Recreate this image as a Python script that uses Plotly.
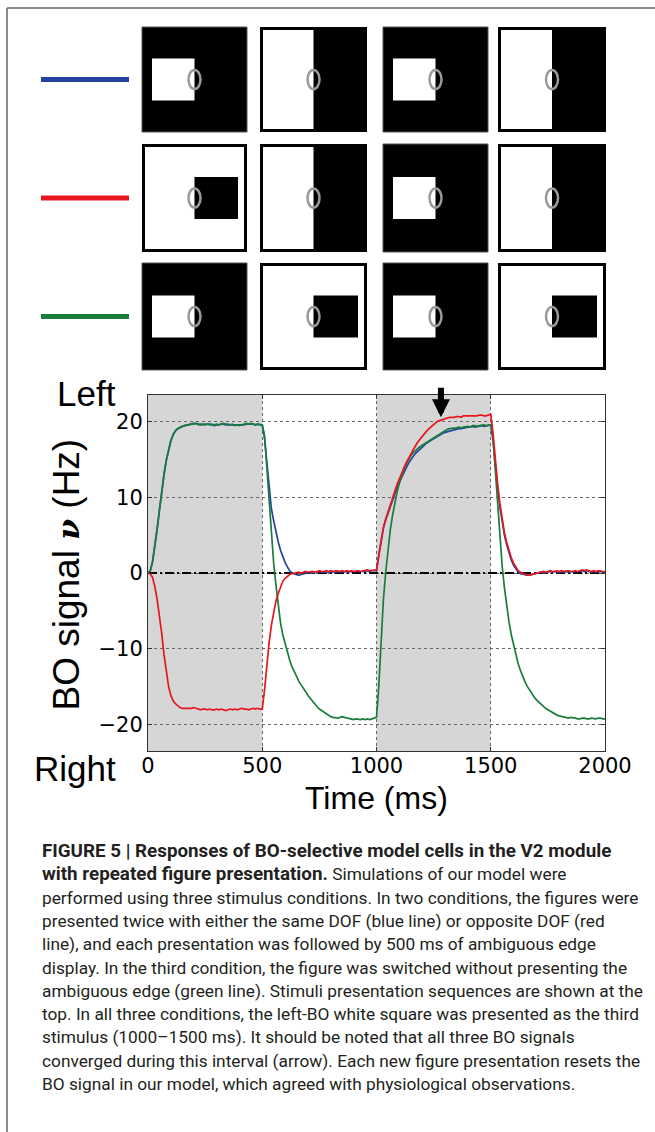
import plotly.graph_objects as go

W, H = 655, 1132

# ---------------- data ----------------
T_MS = list(range(0, 2001, 10))

BLUE_SAME_DOF = [
    0.0, 0.3, 1.5, 3.5, 5.8, 8.3, 10.8, 13.0, 14.9, 16.4,
    17.5, 18.3, 18.8, 19.1, 19.3, 19.4, 19.5, 19.6, 19.6, 19.7,
    19.8, 19.8, 19.7, 19.6, 19.7, 19.6, 19.7, 19.7, 19.6, 19.5,
    19.6, 19.6, 19.7, 19.7, 19.6, 19.6, 19.5, 19.6, 19.5, 19.6,
    19.5, 19.6, 19.6, 19.7, 19.7, 19.7, 19.7, 19.6, 19.7, 19.6,
    19.6, 17.8, 14.6, 11.0, 8.5, 6.9, 5.4, 4.1, 3.0, 2.1,
    1.4, 0.8, 0.3, 0.0, -0.1, -0.2, -0.3, -0.2, -0.1, 0.0,
    0.0, 0.1, 0.0, 0.1, 0.1, 0.2, 0.1, 0.1, 0.2, 0.1,
    0.2, 0.1, 0.2, 0.2, 0.1, 0.2, 0.1, 0.2, 0.1, 0.2,
    0.1, 0.2, 0.2, 0.1, 0.2, 0.2, 0.3, 0.2, 0.3, 0.3,
    0.3, 2.4, 4.4, 5.9, 7.0, 7.9, 8.8, 9.7, 10.5, 11.3,
    12.0, 12.7, 13.3, 13.9, 14.5, 15.0, 15.4, 15.8, 16.1, 16.4,
    16.7, 16.9, 17.2, 17.4, 17.6, 17.8, 18.0, 18.1, 18.3, 18.5,
    18.6, 18.7, 18.8, 18.9, 19.0, 19.0, 19.1, 19.1, 19.2, 19.2,
    19.3, 19.3, 19.4, 19.3, 19.4, 19.5, 19.5, 19.4, 19.5, 19.6,
    19.6, 17.5, 14.2, 11.2, 8.7, 6.6, 5.0, 3.7, 2.6, 1.7,
    1.0, 0.5, 0.1, -0.1, -0.2, -0.3, -0.3, -0.3, -0.2, -0.1,
    0.0, 0.0, 0.1, 0.0, 0.1, 0.1, 0.2, 0.1, 0.2, 0.1,
    0.1, 0.2, 0.1, 0.2, 0.2, 0.1, 0.2, 0.1, 0.1, 0.2,
    0.3, 0.2, 0.3, 0.2, 0.1, 0.2, 0.1, 0.2, 0.2, 0.1,
    0.1,
]

GREEN_NO_AMBIGUOUS = [
    0.0, 0.3, 1.5, 3.5, 5.8, 8.3, 10.8, 13.0, 14.9, 16.4,
    17.5, 18.3, 18.8, 19.1, 19.3, 19.4, 19.5, 19.5, 19.6, 19.7,
    19.7, 19.8, 19.6, 19.7, 19.6, 19.7, 19.7, 19.6, 19.7, 19.6,
    19.7, 19.6, 19.7, 19.8, 19.7, 19.7, 19.6, 19.7, 19.5, 19.6,
    19.5, 19.6, 19.7, 19.8, 19.7, 19.8, 19.7, 19.6, 19.7, 19.6,
    19.6, 18.2, 14.0, 9.3, 4.8, 1.3, -1.6, -4.5, -6.6, -8.2,
    -9.4, -10.5, -11.5, -12.4, -13.1, -13.7, -14.3, -14.8, -15.2, -15.7,
    -16.2, -16.6, -17.0, -17.4, -17.7, -18.0, -18.2, -18.5, -18.7, -18.9,
    -19.0, -19.1, -19.2, -19.2, -19.1, -19.0, -19.1, -19.2, -19.3, -19.3,
    -19.4, -19.3, -19.4, -19.4, -19.3, -19.4, -19.3, -19.4, -19.3, -19.2,
    -19.1, -15.0, -9.2, -3.6, 0.0, 3.3, 5.6, 7.6, 9.3, 10.7,
    11.9, 12.9, 13.7, 14.4, 15.0, 15.5, 15.9, 16.2, 16.5, 16.7,
    16.9, 17.1, 17.3, 17.5, 17.7, 17.9, 18.1, 18.3, 18.5, 18.7,
    18.9, 19.0, 19.1, 19.1, 19.2, 19.2, 19.3, 19.2, 19.3, 19.4,
    19.4, 19.3, 19.5, 19.5, 19.4, 19.5, 19.6, 19.6, 19.5, 19.6,
    19.6, 17.8, 13.5, 8.8, 4.4, 0.9, -2.0, -4.5, -6.5, -8.2,
    -9.6, -10.9, -12.0, -12.9, -13.7, -14.4, -15.0, -15.5, -16.0, -16.4,
    -16.8, -17.1, -17.4, -17.7, -17.9, -18.1, -18.3, -18.5, -18.7, -18.8,
    -18.9, -19.0, -19.1, -19.2, -19.2, -19.1, -19.1, -19.2, -19.3, -19.3,
    -19.2, -19.2, -19.3, -19.3, -19.2, -19.3, -19.3, -19.2, -19.2, -19.3,
    -19.3,
]

RED_OPPOSITE_DOF = [
    0.0, -0.1, -0.6, -1.8, -3.5, -5.5, -8.0, -10.8, -13.2, -15.0,
    -16.2, -16.9, -17.3, -17.6, -17.8, -17.9, -17.9, -18.0, -18.0, -17.9,
    -17.8, -17.9, -18.0, -18.1, -18.0, -18.0, -18.1, -18.0, -18.1, -18.1,
    -18.0, -18.1, -18.0, -18.1, -18.2, -18.1, -18.0, -18.1, -18.0, -18.1,
    -18.0, -17.9, -18.0, -18.0, -18.1, -18.0, -17.9, -18.0, -17.9, -18.0,
    -18.0, -15.5, -12.2, -9.2, -6.9, -5.0, -3.7, -2.7, -1.8, -1.1,
    -0.7, -0.4, -0.2, -0.1, 0.0, 0.0, 0.1, 0.0, 0.1, 0.2,
    0.1, 0.2, 0.2, 0.1, 0.2, 0.3, 0.2, 0.2, 0.3, 0.2,
    0.3, 0.2, 0.3, 0.3, 0.2, 0.3, 0.2, 0.3, 0.2, 0.3,
    0.2, 0.3, 0.3, 0.2, 0.3, 0.3, 0.4, 0.3, 0.4, 0.4,
    0.4, 2.5, 4.5, 6.0, 7.1, 8.1, 9.0, 9.9, 10.8, 11.7,
    12.5, 13.2, 13.9, 14.6, 15.2, 15.8, 16.3, 16.8, 17.3, 17.7,
    18.1, 18.5, 18.8, 19.1, 19.4, 19.7, 19.9, 20.1, 20.2, 20.4,
    20.5, 20.5, 20.6, 20.6, 20.6, 20.7, 20.7, 20.6, 20.8, 20.8,
    20.8, 20.7, 20.7, 20.8, 20.8, 20.9, 20.9, 20.8, 20.8, 20.9,
    21.0, 18.5, 15.0, 11.8, 9.2, 7.0, 5.3, 4.0, 2.9, 2.0,
    1.3, 0.7, 0.3, 0.1, -0.1, -0.2, -0.2, -0.3, -0.2, -0.1,
    0.0, 0.1, 0.1, 0.2, 0.1, 0.2, 0.3, 0.2, 0.2, 0.3,
    0.2, 0.3, 0.2, 0.3, 0.3, 0.2, 0.2, 0.3, 0.2, 0.3,
    0.4, 0.3, 0.4, 0.3, 0.2, 0.3, 0.2, 0.3, 0.3, 0.2,
    0.2,
]

X_TICKS = [0, 500, 1000, 1500, 2000]
Y_TICKS = [-20, -10, 0, 10, 20]
FIGURE_PERIODS = [(0, 500), (1000, 1500)]
ARROW_T, ARROW_V = 1282, 20.6

# stimulus sequences: A = white square left on black, B = ambiguous edge,
# C = black square right on white
STIMULI = [
    ["A", "B", "A", "B"],
    ["C", "B", "A", "B"],
    ["A", "C", "A", "C"],
]

BLUE, RED, GREEN = "#2244a0", "#e8161c", "#1a7d3c"
SERIES = [("same DOF", BLUE_SAME_DOF, BLUE),
          ("no ambiguous edge", GREEN_NO_AMBIGUOUS, GREEN),
          ("opposite DOF", RED_OPPOSITE_DOF, RED)]
ROW_COLORS = [BLUE, RED, GREEN]

BOLD_SPAN = '<span style="font-size:18.8px"><b>{}</b></span>'
CAPTION = [
    BOLD_SPAN.format("FIGURE 5 | Responses of BO-selective model cells in the V2 module"),
    BOLD_SPAN.format("with repeated figure presentation.") + " Simulations of our model were",
    "performed using three stimulus conditions. In two conditions, the figures were",
    "presented twice with either the same DOF (blue line) or opposite DOF (red",
    "line), and each presentation was followed by 500 ms of ambiguous edge",
    "display. In the third condition, the figure was switched without presenting the",
    "ambiguous edge (green line). Stimuli presentation sequences are shown at the",
    "top. In all three conditions, the left-BO white square was presented as the third",
    "stimulus (1000\u20131500 ms). It should be noted that all three BO signals",
    "converged during this interval (arrow). Each new figure presentation resets the",
    "BO signal in our model, which agreed with physiological observations.",
]

# ---------------- layout geometry (pixels) ----------------
PLOT_L, PLOT_R, PLOT_T, PLOT_B = 148, 605, 395, 751
PANEL_X = [(142, 247), (260, 367), (383, 488), (498, 606)]
PANEL_Y = [(27, 132), (144, 252), (263, 370)]
LEGEND_X = (41, 129)


def fx(px):
    return px / W


def fy(py):
    return 1 - py / H


fig = go.Figure()

# zero reference line
fig.add_trace(go.Scatter(
    x=[X_TICKS[0], X_TICKS[-1]], y=[0, 0], mode="lines",
    line=dict(color="black", width=2, dash="9px,3px,2px,3px"),
    hoverinfo="skip", showlegend=False))

for name, vals, col in SERIES:
    fig.add_trace(go.Scatter(
        x=T_MS, y=vals, mode="lines", name=name,
        line=dict(color=col, width=1.7), showlegend=False))

shapes = []
for a, b in FIGURE_PERIODS:
    shapes.append(dict(type="rect", xref="x", yref="y domain", x0=a, x1=b,
                       y0=0, y1=1, fillcolor="#d6d6d6", line=dict(width=0),
                       layer="below"))

# page frame
shapes.append(dict(type="line", xref="paper", yref="paper",
                   x0=fx(7), x1=fx(W), y0=fy(8), y1=fy(8),
                   line=dict(color="#666666", width=1.5)))
shapes.append(dict(type="line", xref="paper", yref="paper",
                   x0=fx(7), x1=fx(7), y0=fy(8), y1=fy(H),
                   line=dict(color="#666666", width=1.5)))

# legend bars and stimulus panels
for r, row in enumerate(STIMULI):
    y0, y1 = PANEL_Y[r]
    cy = (y0 + y1) / 2
    shapes.append(dict(type="line", xref="paper", yref="paper",
                       x0=fx(LEGEND_X[0]), x1=fx(LEGEND_X[1]),
                       y0=fy(cy), y1=fy(cy),
                       line=dict(color=ROW_COLORS[r], width=5)))
    for c, kind in enumerate(row):
        x0, x1 = PANEL_X[c]
        cx = (x0 + x1) / 2
        if kind == "A":
            shapes.append(dict(type="rect", xref="paper", yref="paper",
                               x0=fx(x0), x1=fx(x1), y0=fy(y1), y1=fy(y0),
                               fillcolor="black", line=dict(color="#555555", width=1)))
            shapes.append(dict(type="rect", xref="paper", yref="paper",
                               x0=fx(x0 + 10), x1=fx(cx), y0=fy(cy + 21), y1=fy(cy - 21),
                               fillcolor="white", line=dict(width=0)))
        else:
            shapes.append(dict(type="rect", xref="paper", yref="paper",
                               x0=fx(x0 + 1.5), x1=fx(x1 - 1.5), y0=fy(y1 - 1.5), y1=fy(y0 + 1.5),
                               fillcolor="white", line=dict(color="black", width=3)))
            if kind == "B":
                shapes.append(dict(type="rect", xref="paper", yref="paper",
                                   x0=fx(cx), x1=fx(x1), y0=fy(y1), y1=fy(y0),
                                   fillcolor="black", line=dict(width=0)))
            else:
                shapes.append(dict(type="rect", xref="paper", yref="paper",
                                   x0=fx(cx), x1=fx(x1 - 9), y0=fy(cy + 21), y1=fy(cy - 21),
                                   fillcolor="black", line=dict(width=0)))
        shapes.append(dict(type="circle", xref="paper", yref="paper",
                           x0=fx(cx - 6), x1=fx(cx + 6), y0=fy(cy + 9.5), y1=fy(cy - 9.5),
                           line=dict(color="#9a9a9a", width=2.5)))

annotations = []
BIG = "Liberation Sans, Arial, sans-serif"
annotations.append(dict(text="Left", x=fx(118), y=fy(393.5), xref="paper", yref="paper",
                        xanchor="right", yanchor="middle", showarrow=False,
                        font=dict(family=BIG, size=35, color="black")))
annotations.append(dict(text="Right", x=fx(118), y=fy(768.5), xref="paper", yref="paper",
                        xanchor="right", yanchor="middle", showarrow=False,
                        font=dict(family=BIG, size=35, color="black")))
annotations.append(dict(
    text="BO signal <span style=\"font-family:'DejaVu Serif';font-size:30px\"><b><i>\u03bd</i></b></span> (Hz)",
    x=fx(66.5), y=fy(575), xref="paper", yref="paper", textangle=-90,
    xanchor="center", yanchor="middle", showarrow=False,
    font=dict(family=BIG, size=37, color="black")))
annotations.append(dict(text="Time (ms)", x=fx(376.5), y=fy(798), xref="paper", yref="paper",
                        xanchor="center", yanchor="middle", showarrow=False,
                        font=dict(family=BIG, size=32, color="black")))
annotations.append(dict(text="", x=ARROW_T, y=ARROW_V, xref="x", yref="y",
                        showarrow=True, ax=0, ay=-31, arrowhead=2, arrowsize=0.6,
                        arrowwidth=6, arrowcolor="black"))

CAP_FONT = "Roboto, Arial, sans-serif"
for i, line in enumerate(CAPTION):
    annotations.append(dict(text=line, x=fx(40), y=fy(851 + 23.3 * i),
                            xref="paper", yref="paper", xanchor="left", yanchor="middle",
                            showarrow=False,
                            font=dict(family=CAP_FONT, size=17.3, color="#231f20")))

axis_common = dict(showline=True, mirror="ticks", linecolor="#333333", linewidth=1,
                   ticks="inside", ticklen=4, tickcolor="#333333",
                   showgrid=True, gridcolor="#666666", gridwidth=1, griddash="dot",
                   zeroline=False,
                   tickfont=dict(family="DejaVu Sans", size=21, color="black"))

fig.update_layout(
    width=W, height=H, autosize=False,
    margin=dict(l=0, r=0, t=0, b=0, autoexpand=False),
    paper_bgcolor="white", plot_bgcolor="white",
    xaxis=dict(domain=[fx(PLOT_L), fx(PLOT_R)], range=[0, 2000],
               tickvals=X_TICKS, ticktext=[str(v) for v in X_TICKS],
               ticklabelstandoff=-4, **axis_common),
    yaxis=dict(domain=[fy(PLOT_B), fy(PLOT_T)], range=[-23.55, 23.55],
               tickvals=Y_TICKS, **axis_common),
    shapes=shapes, annotations=annotations, showlegend=False,
)

POST = (
    "document.documentElement.style.overflow='hidden';"
    "document.body.style.margin='0';document.body.style.overflow='hidden';"
)

fig.write_html(
    "out.html",
    config={"displayModeBar": False},
    post_script=POST,
)
